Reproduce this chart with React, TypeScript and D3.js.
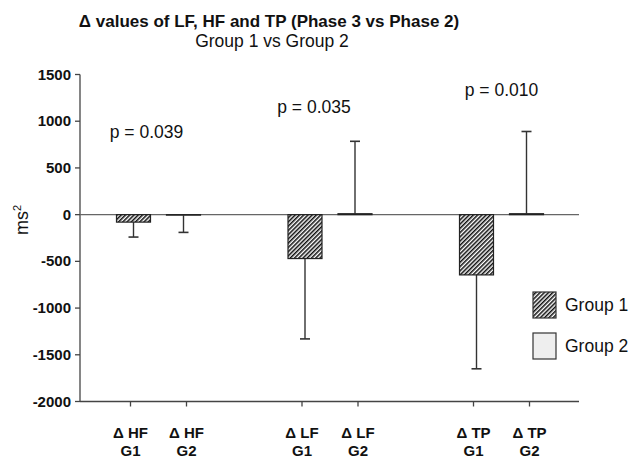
import React from "react";
import * as d3 from "d3";

const groups = ["HF", "LF", "TP"];
const series = ["G1", "G2"];
const g1Means = [-80, -470, -645];
const g1Errors = [-240, -1330, -1650];
const g2Means = [-5, 10, 10];
const g2Errors = [-190, 785, 890];
const pLabels = ["p = 0.039", "p = 0.035", "p = 0.010"];
const pLabelValues = [820, 1090, 1275];
const yTicks = [1500, 1000, 500, 0, -500, -1000, -1500, -2000];
const legendLabels = ["Group 1", "Group 2"];

const W = 632;
const H = 460;
const FONT = "'Liberation Sans', Arial, sans-serif";

export default function App() {
  const y = d3.scaleLinear().domain([-2000, 1500]).range([401.5, 74.5]);
  const gx = d3.scaleLinear().domain([0, 2]).range([158.5, 501.5]);
  const barOffset = d3.scaleOrdinal<string, number>().domain(series).range([-25, 25]);
  const tickOffset = d3.scaleOrdinal<string, number>().domain(series).range([-28, 28]);
  const barW = 34;
  const capW = 10;
  const axisX = 80;
  const axisBottom = 401.5;
  const xEnd = 579;
  const pOffsets = [-12, -16, 0];

  const bars: { x: number; v: number; e: number; s: string }[] = [];
  groups.forEach((g, i) => {
    bars.push({ x: gx(i) + barOffset("G1"), v: g1Means[i], e: g1Errors[i], s: "G1" });
    bars.push({ x: gx(i) + barOffset("G2"), v: g2Means[i], e: g2Errors[i], s: "G2" });
  });

  return (
    <svg width={W} height={H} style={{ display: "block", position: "absolute", left: 0, top: 0 }} fontFamily={FONT}>
      <defs>
        <pattern id="hatch" patternUnits="userSpaceOnUse" width="3" height="3" patternTransform="rotate(45)">
          <rect width="3" height="3" fill="#fff" />
          <line x1="0.75" y1="0" x2="0.75" y2="3" stroke="#111" strokeWidth="1.6" />
        </pattern>
      </defs>
      <rect width={W} height={H} fill="#fff" />
      <text x={269} y={27} textAnchor="middle" fontSize={17} fontWeight="bold" fill="#111">
        Δ values of LF, HF and TP (Phase 3 vs Phase 2)
      </text>
      <text x={272} y={47} textAnchor="middle" fontSize={17.5} fill="#111">
        Group 1 vs Group 2
      </text>

      {/* y axis */}
      <line x1={axisX} x2={axisX} y1={y(1500)} y2={axisBottom} stroke="#444" strokeWidth={1.3} />
      {yTicks.map((t) => (
        <g key={t}>
          <line x1={axisX - 5} x2={axisX} y1={y(t)} y2={y(t)} stroke="#444" strokeWidth={1.3} />
          <text x={71} y={y(t) + 5} textAnchor="end" fontSize={15} fontWeight="bold" fill="#111">
            {t}
          </text>
        </g>
      ))}
      <text transform={`translate(28,220) rotate(-90)`} textAnchor="middle" fontSize={18} fill="#111">
        ms<tspan dy={-7} fontSize={11}>2</tspan>
      </text>

      {/* x axis */}
      <line x1={axisX} x2={xEnd} y1={axisBottom} y2={axisBottom} stroke="#444" strokeWidth={1.3} />
      {groups.map((g, i) =>
        series.map((s) => {
          const tx = gx(i) + tickOffset(s);
          return (
            <g key={g + s}>
              <line x1={tx} x2={tx} y1={axisBottom} y2={axisBottom + 5} stroke="#444" strokeWidth={1.3} />
              <text x={tx} y={438} textAnchor="middle" fontSize={15} fontWeight="bold" fill="#111">
                {"Δ " + g}
              </text>
              <text x={tx} y={456} textAnchor="middle" fontSize={15} fontWeight="bold" fill="#111">
                {s}
              </text>
            </g>
          );
        })
      )}

      {/* zero line */}
      <line x1={axisX} x2={xEnd} y1={y(0)} y2={y(0)} stroke="#666" strokeWidth={1.3} />

      {/* error bars */}
      {bars.map((b, i) => (
        <g key={"e" + i} stroke="#333" strokeWidth={1.4}>
          <line x1={b.x} x2={b.x} y1={y(b.v)} y2={y(b.e)} />
          <line x1={b.x - capW / 2} x2={b.x + capW / 2} y1={y(b.e)} y2={y(b.e)} strokeWidth={1.6} />
        </g>
      ))}

      {/* bars */}
      {bars.map((b, i) => (
        <rect
          key={"b" + i}
          x={b.x - barW / 2}
          y={Math.min(y(0), y(b.v))}
          width={barW}
          height={Math.max(0.5, Math.abs(y(b.v) - y(0)))}
          fill={b.s === "G1" ? "url(#hatch)" : "#eeeeee"}
          stroke="#222"
          strokeWidth={1.2}
        />
      ))}

      {/* p labels */}
      {pLabels.map((p, i) => (
        <text key={p} x={gx(i) + pOffsets[i]} y={y(pLabelValues[i])} textAnchor="middle" fontSize={17.5} fill="#111">
          {p}
        </text>
      ))}

      {/* legend */}
      {legendLabels.map((l, i) => (
        <g key={l}>
          <rect
            x={533}
            y={292 + i * 41}
            width={23}
            height={26}
            fill={i === 0 ? "url(#hatch)" : "#eeeeee"}
            stroke="#333"
            strokeWidth={1.2}
          />
          <text x={565} y={311 + i * 41} fontSize={17.5} fill="#111">
            {l}
          </text>
        </g>
      ))}
    </svg>
  );
}
